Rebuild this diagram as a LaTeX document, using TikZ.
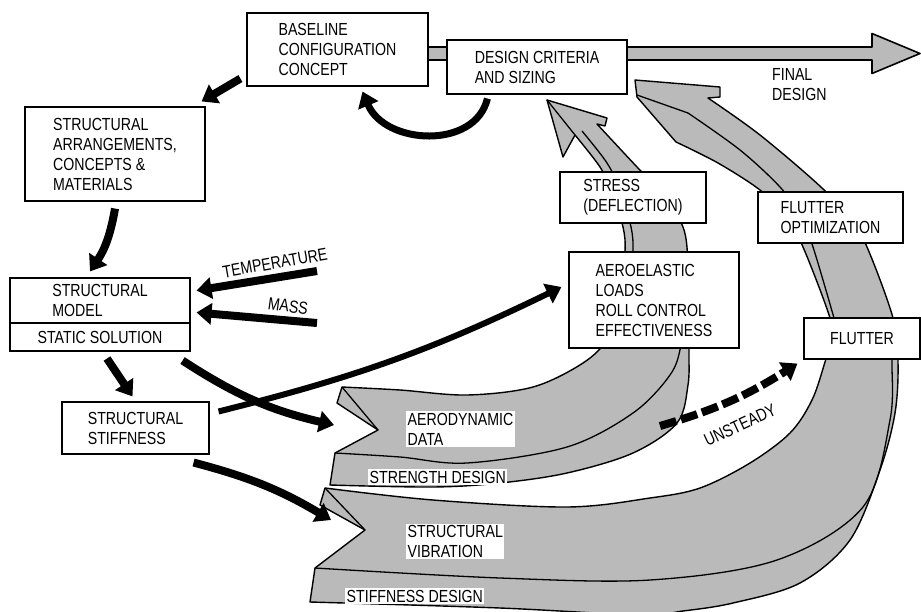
\documentclass[tikz,border=0pt]{standalone}
\usepackage{fontspec}
\setmainfont{Liberation Sans}[FakeStretch=0.81]
\usetikzlibrary{arrows.meta,calc}
\tikzset{
 box/.style={draw, line width=1.1pt, fill=white, align=left, inner sep=0pt},
 band/.style={fill=black!27, draw=black, line width=1.4pt, line join=round},
 bandline/.style={draw=black, line width=1.3pt},
 blk/.style={line width=8pt, black, -{Triangle[length=15pt,width=21pt]}},
 lbl/.style={fill=white, inner sep=1.5pt, align=left},
}
\begin{document}
\begin{tikzpicture}[x=1pt,y=-1pt,font=\fontsize{17.5}{20}\selectfont]
\useasboundingbox (0,0) rectangle (921,611);
\begin{scope}
\clip (0,0) rectangle (921,611);
% ---- strength design band (inner arc)
\path[band] (342,387) -- plot[smooth,tension=0.55] coordinates {(342,387) (400,390) (467,395) (533,387) (583,363) (608,338) (620,300) (625,252) (623,227) (612,192) (600,167) (575,135)}
 -- (563,157) -- (547,100) -- (607,118) -- (605,126) -- (597,124)
 -- plot[smooth,tension=0.55] coordinates {(597,124) (637,167) (662,193) (683,227) (688,260) (690,300) (689,350) (688,385) (677,423) (633,453) (567,473) (500,483) (433,487) (330,485)}
 -- (335,453) -- (378,430) -- (337,403) -- cycle;
\draw[bandline] plot[smooth,tension=0.55] coordinates {(335,453) (400,457) (467,463) (567,447) (633,413) (670,375) (681,345) (686,300)};
\draw[bandline] (342,387) -- (378,430);
\draw[bandline] (547,100) -- (575,135);
\draw[bandline] plot[smooth,tension=0.55] coordinates {(582,131) (607,163) (620,190) (631,227) (633,252) (630,300)};
% ---- stiffness design band (outer arc)
\path[band] (325,488) -- plot[smooth,tension=0.55] coordinates {(325,488) (433,500) (567,507) (650,498) (700,488) (750,463) (790,433) (812,400) (825,362) (831,340) (830,318) (803,247) (785,215) (760,190) (718,163) (676,142)}
 -- (637,97) -- (635,80) -- (720,87) -- (720,97) -- (708,98)
 -- plot[smooth,tension=0.55] coordinates {(708,98) (760,135) (822,188) (850,220) (867,247) (893,318) (898,362) (895,413) (880,470) (850,540) (800,583) (733,603) (683,611) (640,615) (500,608) (310,602)}
 -- (315,568) -- (365,530) -- (320,505) -- cycle;
\draw[bandline] plot[smooth,tension=0.55] coordinates {(315,568) (500,578) (650,580) (777,560) (863,507) (890,420) (892,362) (893,340)};
\draw[bandline] (325,488) -- (365,530);
\draw[bandline] (637,95) -- (688,113);
\draw[bandline] plot[smooth,tension=0.55] coordinates {(688,113) (740,150) (780,187) (800,215) (813,247) (834,318)};
\end{scope}
% ---- nodes
\node[box, minimum width=181, minimum height=73] (b1) at (337.5,49.5) {BASELINE\\CONFIGURATION\\CONCEPT};
\coordinate (fd) at (920,53.5);
\path[band, line width=1.6pt] ($(b1.east)+(-2,-2.5)$) -- ($(fd)+(-48,-6.5)$) -- ($(fd)+(-48,-20)$) -- (fd) -- ($(fd)+(-48,20)$) -- ($(fd)+(-48,6.5)$) -- ($(b1.east)+(-2,10.5)$) -- cycle;
\node[box, minimum width=181, minimum height=73] at (b1) {BASELINE\\CONFIGURATION\\CONCEPT};
\node[box, minimum width=180, minimum height=54] (b2) at (537,67) {DESIGN CRITERIA\\AND SIZING};
\node[box, minimum width=180, minimum height=94] (b3) at (115,154) {STRUCTURAL\\ARRANGEMENTS,\\CONCEPTS \&\\MATERIALS};
\node[box, minimum width=180, minimum height=45] (b4) at (100,300.5) {STRUCTURAL\\MODEL};
\node[box, minimum width=180, minimum height=28] (b4s) at (100,337) {STATIC SOLUTION};
\node[box, minimum width=147, minimum height=52] (b5) at (135.5,428) {STRUCTURAL\\STIFFNESS};
\node[box, minimum width=146, minimum height=51] (bs) at (633,197.5) {STRESS\\(DEFLECTION)};
\node[box, minimum width=170, minimum height=96] (ba) at (654,300) {AEROELASTIC\\LOADS\\ROLL CONTROL\\EFFECTIVENESS};
\node[box, minimum width=145, minimum height=51] (bfo) at (830.5,217.5) {FLUTTER\\OPTIMIZATION};
\node[box, minimum width=116, minimum height=41] (bf) at (862,338.5) {FLUTTER};
% ---- arrows
\coordinate (tt) at (317,271);
\coordinate (mt) at (317,323);
\coordinate (adt) at (334,425);
\coordinate (svt) at (331,520);
\coordinate (ust) at (660,426);
\draw[blk] ($(b1.south west)+(-6,-8)$) -- ($(b3.north east)+(-4,-5)$);
\draw[blk] ($(b3.south)+(0,7)$) to[bend left=12] ($(b4.north)+(-10,-6)$);
\draw[blk] (tt) -- ($(b4.east)+(6,-10)$);
\draw[blk] (mt) -- ($(b4.east)+(6,12)$);
\draw[blk] ($(b4s.south)+(7,7)$) -- ($(b5.north)+(-3,-5)$);
\draw[blk] ($(b4s.south east)+(-8,9)$) to[bend right=10] (adt);
\draw[blk, line width=6pt] ($(b5.north east)+(9,10)$) to[bend right=6] ($(ba.west)+(-7,-13)$);
\draw[blk] ($(b5.south east)+(-16,8)$) to[bend left=8] (svt);
\draw[blk, line width=7pt] ($(b2.south west)+(41,4)$) .. controls (475,150) and (385,145) .. ($(b1.south)+(25,5)$);
\draw[blk, dash pattern=on 17pt off 5pt] (ust) to[bend right=8] ($(bf.south west)+(-6,4)$);
% ---- labels
\node[rotate=10] (lt) at (275,263) {TEMPERATURE};
\node[rotate=-8] (lm) at (288,306) {MASS};
\node[rotate=25, inner sep=0pt] (lu) at (740,425) {UNSTEADY};
\node[align=left, anchor=west, inner sep=0pt] (lf) at (772,85) {FINAL\\DESIGN};
\node[lbl, anchor=west] (l1) at (406,429) {AERODYNAMIC\\DATA};
\node[lbl, anchor=west] (l2) at (368,477) {STRENGTH DESIGN};
\node[lbl, anchor=west] (l3) at (406,541.5) {STRUCTURAL\\VIBRATION};
\node[lbl, anchor=west] (l4) at (345,596) {STIFFNESS DESIGN};
\end{tikzpicture}
\end{document}
